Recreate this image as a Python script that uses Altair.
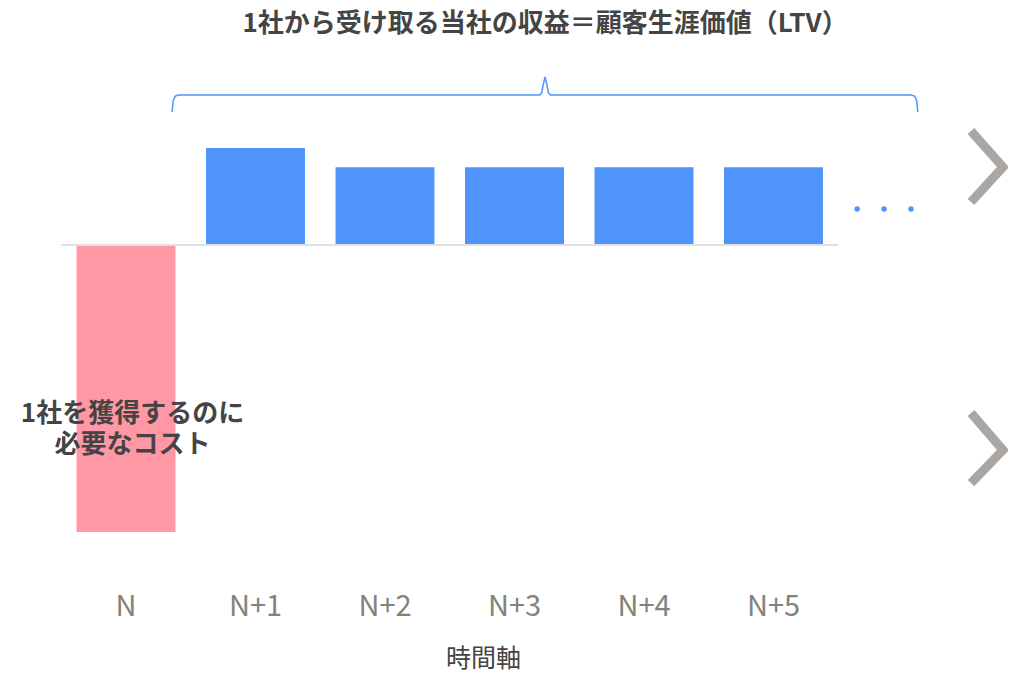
import altair as alt
import pandas as pd

# ---- data ----
periods = ["N", "N+1", "N+2", "N+3", "N+4", "N+5"]
values = [-3.0, 1.0, 0.8, 0.8, 0.8, 0.8]
kinds = ["cost", "revenue", "revenue", "revenue", "revenue", "revenue"]
title_text = "1社から受け取る当社の収益＝顧客生涯価値（LTV）"
cost_text = ["1社を獲得するのに", "必要なコスト"]
axis_title = "時間軸"

FONT = "Noto Sans CJK JP"
BLUE = "#4f95fc"
PINK = "#ff97a4"
GRAY = "#aaa6a3"

pos = list(range(len(periods)))
half = 0.382
bars = pd.DataFrame({
    "period": periods, "pos": pos, "value": values, "kind": kinds,
    "x0": [p - half for p in pos], "x1": [p + half for p in pos],
})

# scale settings (chart fills the page; 1 unit x = 129.5px, 1 unit y = 96px)
W, H = 1000, 664
xdom = [(8 - 126) / 129.5, (8 + W - 126) / 129.5]
ydom = [(244 - 8 - H) / 96, (244 - 8) / 96]
xs = alt.Scale(domain=xdom, nice=False, zero=False)
ys = alt.Scale(domain=ydom, nice=False, zero=False)

bar = alt.Chart(bars).mark_bar().encode(
    x=alt.X("x0:Q", scale=xs, axis=None),
    x2="x1:Q",
    y=alt.Y("value:Q", scale=ys, axis=None),
    y2=alt.datum(0),
    color=alt.Color("kind:N", scale=alt.Scale(domain=["cost", "revenue"], range=[PINK, BLUE]), legend=None),
)

base = alt.Chart(pd.DataFrame({"a": [-0.5], "b": [5.5], "y": [-0.01]})).mark_rule(
    color="#e0e0e0", strokeWidth=2
).encode(x=alt.X("a:Q", scale=xs), x2="b:Q", y=alt.Y("y:Q", scale=ys))

# brace above revenue bars
brace_pts = [
    (0.356, 1.375), (0.364, 1.49), (0.38, 1.54), (0.405, 1.552),
    (3.195, 1.552), (3.212, 1.58), (3.22, 1.65), (3.236, 1.74),
    (3.252, 1.65), (3.26, 1.58), (3.277, 1.552),
    (6.065, 1.552), (6.09, 1.54), (6.106, 1.49), (6.114, 1.375),
]
brace = pd.DataFrame({"x": [p[0] for p in brace_pts], "y": [p[1] for p in brace_pts],
                      "o": list(range(len(brace_pts)))})
brace_line = alt.Chart(brace).mark_line(color=BLUE, strokeWidth=1.5, clip=False).encode(
    x=alt.X("x:Q", scale=xs), y=alt.Y("y:Q", scale=ys), order="o:Q")

dots = pd.DataFrame({"x": [5.646, 5.854, 6.062], "y": [0.365] * 3})
dot_mark = alt.Chart(dots).mark_circle(color=BLUE, size=30, opacity=1).encode(
    x=alt.X("x:Q", scale=xs), y=alt.Y("y:Q", scale=ys))

chev = pd.DataFrame({
    "x": [6.525, 6.772, 6.525, 6.525, 6.772, 6.525],
    "y": [1.177, 0.802, 0.4375, -1.76, -2.146, -2.49],
    "g": ["a", "a", "a", "b", "b", "b"],
    "o": [0, 1, 2, 0, 1, 2],
})
chev_mark = alt.Chart(chev).mark_line(color=GRAY, strokeWidth=9, strokeCap="butt", strokeJoin="miter", clip=True).encode(
    x=alt.X("x:Q", scale=xs), y=alt.Y("y:Q", scale=ys), detail="g:N", order="o:Q")

title_mark = alt.Chart(pd.DataFrame({"t": [title_text], "x": [3.236], "y": [2.29]})).mark_text(
    font=FONT, fontSize=26, fontWeight="bold", color="#444444"
).encode(x=alt.X("x:Q", scale=xs), y=alt.Y("y:Q", scale=ys), text="t:N")

cost_mark = alt.Chart(pd.DataFrame({"t": [cost_text], "x": [0.05], "y": [-1.766]})).mark_text(
    font=FONT, fontSize=26, fontWeight="bold", color="#444444", lineHeight=31, baseline="middle"
).encode(x=alt.X("x:Q", scale=xs), y=alt.Y("y:Q", scale=ys), text="t")

labels = alt.Chart(bars).mark_text(
    font=FONT, fontSize=29, fontWeight=400, color="#828379", baseline="middle"
).encode(x=alt.X("pos:Q", scale=xs), y=alt.datum(-3.78, scale=ys), text="period:N")

axis_t = alt.Chart(pd.DataFrame({"t": [axis_title], "x": [2.76], "y": [-4.325]})).mark_text(
    font=FONT, fontSize=25, color="#444444", baseline="middle"
).encode(x=alt.X("x:Q", scale=xs), y=alt.Y("y:Q", scale=ys), text="t:N")

chart = alt.layer(bar, base, brace_line, dot_mark, chev_mark, title_mark, cost_mark, labels, axis_t).properties(
    width=W, height=H, padding=0, background="white",
    autosize=alt.AutoSizeParams(type="none"),
).configure_view(stroke=None).configure_axis(grid=False)

chart.save("out.html", embed_options={"renderer": "svg", "actions": False})
